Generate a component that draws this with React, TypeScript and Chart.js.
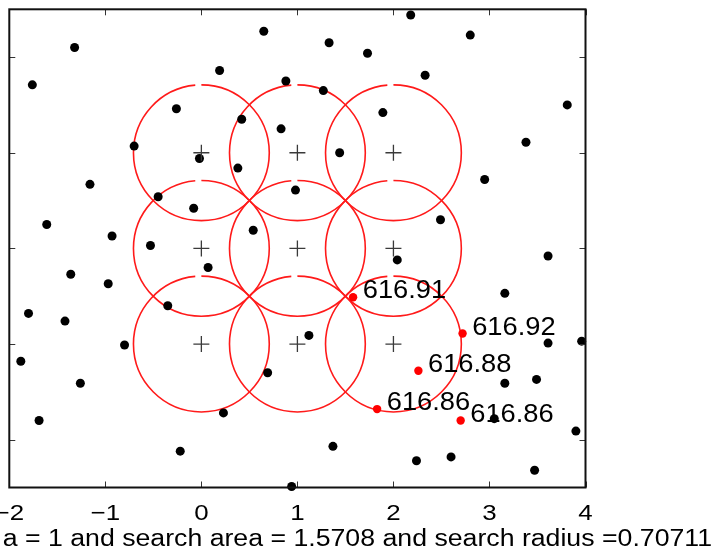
import React, { useEffect, useRef } from 'react';
import { Chart, registerables } from 'chart.js';

Chart.register(...registerables);

// Scattered sample locations (black dots)
const sampleX = [
  -1.76, -1.32, 0.19, -0.26, -0.70, -0.02, 0.42, 0.38, -1.16, 2.18,
  0.65, 1.33, 1.73, 2.80, 2.33, 0.88, 1.27, 1.89, 0.83, 1.44,
  3.81, 3.38, 2.95, -1.61, -0.93, -0.45, -0.08, -0.53, 0.07, -1.36,
  -0.97, -0.35, -1.80, -1.42, -0.80, 0.98, 0.54, 2.49, 2.04, 1.12,
  3.61, 3.16, 3.61, 3.96, -1.88, -1.26, -1.69, 0.23, -0.22, 0.69,
  1.37, 0.94, 2.24, 2.60, 3.16, 3.49, 3.05, 3.90, 3.47,
];
const sampleY = [
  2.71, 3.10, 2.86, 2.46, 2.07, 1.94, 2.35, 1.84, 1.67, 3.44,
  3.27, 3.15, 3.04, 3.23, 2.81, 2.75, 2.65, 2.42, 2.25, 2.00,
  2.50, 2.11, 1.72, 1.25, 1.13, 1.54, 1.42, 1.03, 0.80, 0.73,
  0.63, 0.40, 0.32, 0.24, -0.01, 1.61, 1.19, 1.30, 0.88, 0.09,
  0.92, 0.53, 0.01, 0.03, -0.18, -0.41, -0.80, -0.72, -1.12, -0.30,
  -1.07, -1.49, -1.22, -1.18, -0.41, -0.37, -0.78, -0.91, -1.32,
];

// Highlighted samples (red dots) and their values
const foundX = [1.58, 2.72, 2.26, 1.83, 2.70];
const foundY = [0.49, 0.11, -0.28, -0.68, -0.80];
const foundLabels = ['616.91', '616.92', '616.88', '616.86', '616.86'];

// Grid nodes (crosses / circle centres)
const nodeX = [0, 1, 2, 0, 1, 2, 0, 1, 2];
const nodeY = [2, 2, 2, 1, 1, 1, 0, 0, 0];
const searchRadius = 0.70711;

// Axes
const xMin = -2, xMax = 4, yMin = -1.5, yMax = 3.5;
const xTicks = [-2, -1, 0, 1, 2, 3, 4];
const xTickLabels = ['−2', '−1', '0', '1', '2', '3', '4'];
const yTicks = [-1, 0, 1, 2, 3];
const xLabelText = 'a = 1 and search area = 1.5708 and search radius =0.70711';

const FONT = '"Liberation Sans", Arial, Helvetica, sans-serif';

function drawText(ctx: CanvasRenderingContext2D, text: string, x: number, y: number,
  size: number, stretch: number, align: 'left' | 'center' | 'right') {
  ctx.save();
  ctx.font = `${size}px ${FONT}`;
  ctx.textBaseline = 'alphabetic';
  ctx.textAlign = 'left';
  const w = ctx.measureText(text).width * stretch;
  let left = x;
  if (align === 'center') left = x - w / 2;
  else if (align === 'right') left = x - w;
  ctx.translate(left, y);
  ctx.scale(stretch, 1);
  ctx.fillStyle = '#000';
  ctx.fillText(text, 0, 0);
  ctx.restore();
}

const decorPlugin = {
  id: 'decor',
  beforeDatasetsDraw(chart: any) {
    const { ctx, scales } = chart;
    const xs = scales.x, ys = scales.y;
    const rPx = xs.getPixelForValue(searchRadius) - xs.getPixelForValue(0);
    ctx.save();
    ctx.strokeStyle = '#ff1a1a';
    ctx.lineWidth = 1.6;
    for (let i = 0; i < nodeX.length; i++) {
      const cx = xs.getPixelForValue(nodeX[i]);
      const cy = ys.getPixelForValue(nodeY[i]);
      ctx.beginPath();
      ctx.arc(cx, cy, rPx, -Math.PI / 2, 1.5 * Math.PI - 0.09);
      ctx.stroke();
    }
    ctx.restore();
  },
  afterDatasetsDraw(chart: any) {
    const { ctx, scales } = chart;
    const xs = scales.x, ys = scales.y;
    for (let i = 0; i < foundX.length; i++) {
      const px = xs.getPixelForValue(foundX[i] + 0.1);
      const py = ys.getPixelForValue(foundY[i]);
      drawText(ctx, foundLabels[i], px, py + 1, 25.5, 1.07, 'left');
    }
  },
  afterDraw(chart: any) {
    const { ctx, scales, chartArea } = chart;
    const xs = scales.x, ys = scales.y;
    const { left, right, top, bottom } = chartArea;
    ctx.save();
    // ticks (inward, all four sides)
    ctx.strokeStyle = '#333';
    ctx.lineWidth = 1;
    const tl = 6;
    ctx.beginPath();
    xTicks.forEach((v) => {
      const px = Math.round(xs.getPixelForValue(v)) + 0.5;
      ctx.moveTo(px, bottom); ctx.lineTo(px, bottom - tl);
      ctx.moveTo(px, top); ctx.lineTo(px, top + tl);
    });
    yTicks.forEach((v) => {
      const py = Math.round(ys.getPixelForValue(v)) + 0.5;
      ctx.moveTo(left, py); ctx.lineTo(left + tl, py);
      ctx.moveTo(right, py); ctx.lineTo(right - tl, py);
    });
    ctx.stroke();
    // frame
    ctx.strokeStyle = '#111';
    ctx.lineWidth = 2;
    ctx.strokeRect(left, top, right - left, bottom - top);
    ctx.restore();
    // tick labels
    xTicks.forEach((v, i) => {
      drawText(ctx, xTickLabels[i], xs.getPixelForValue(v), 520, 22.5, 1.15, 'center');
    });
    // x label
    drawText(ctx, xLabelText, 712, 546, 23, 1.16, 'right');
  },
};

export default function App() {
  const ref = useRef<HTMLCanvasElement | null>(null);
  useEffect(() => {
    if (!ref.current) return;
    const samples = sampleX.map((x, i) => ({ x, y: sampleY[i] }));
    const found = foundX.map((x, i) => ({ x, y: foundY[i] }));
    const nodes = nodeX.map((x, i) => ({ x, y: nodeY[i] }));
    const chart = new Chart(ref.current, {
      type: 'scatter',
      data: {
        datasets: [
          {
            data: nodes,
            pointStyle: 'cross',
            pointRadius: 8,
            borderColor: '#3a3a3a',
            borderWidth: 1.3,
            backgroundColor: '#3a3a3a',
            clip: false,
          } as any,
          {
            data: samples,
            pointRadius: 4.5,
            backgroundColor: '#000',
            borderColor: '#000',
            borderWidth: 0,
            clip: false,
          } as any,
          {
            data: found,
            pointRadius: 4.2,
            backgroundColor: '#ff0000',
            borderColor: '#ff0000',
            borderWidth: 0,
            clip: false,
          } as any,
        ],
      },
      options: {
        responsive: false,
        animation: false,
        devicePixelRatio: 1,
        layout: { padding: { left: 6.5, top: 6.5, right: 127.5, bottom: 68.5 } },
        plugins: { legend: { display: false }, tooltip: { enabled: false } },
        events: [],
        scales: {
          x: { type: 'linear', min: xMin, max: xMax, display: false },
          y: { type: 'linear', min: yMin, max: yMax, display: false },
        },
      },
      plugins: [decorPlugin],
    });
    return () => chart.destroy();
  }, []);
  return (
    <div style={{ position: 'absolute', left: 0, top: 0, width: 713, height: 556, background: '#fff' }}>
      <canvas ref={ref} width={713} height={556} style={{ display: 'block' }} />
    </div>
  );
}
